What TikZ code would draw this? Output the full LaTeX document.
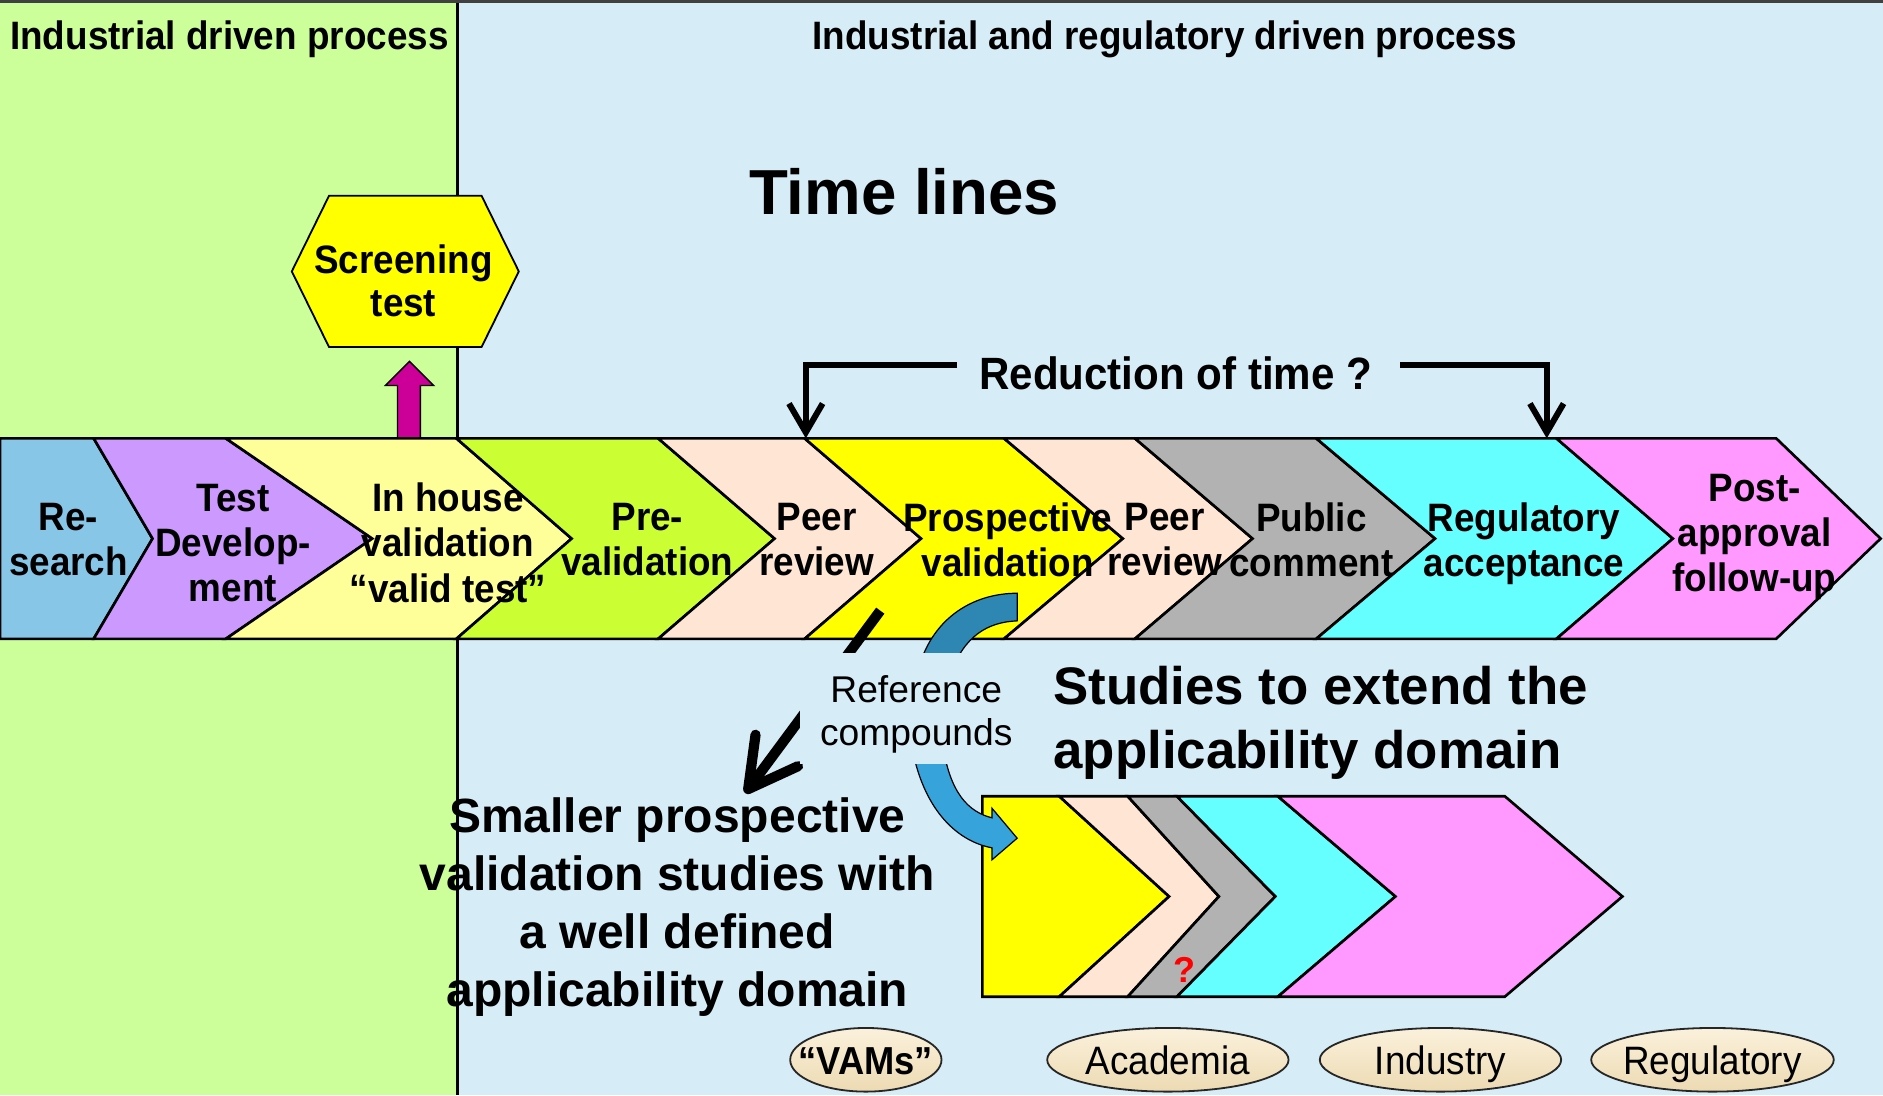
\documentclass[tikz,border=0pt]{standalone}
\usepackage{fontspec}
\setmainfont{Liberation Sans}
\newfontfamily\condfont[FakeStretch=0.93]{Liberation Sans}
\usetikzlibrary{arrows.meta,shapes.geometric}
\definecolor{bggreen}{HTML}{CCFF99}
\definecolor{bgblue}{HTML}{D6ECF7}
\definecolor{cBlue}{HTML}{88C6E8}
\definecolor{cPurple}{HTML}{CC99FF}
\definecolor{cLightYellow}{HTML}{FFFF99}
\definecolor{cGreen}{HTML}{CCFF33}
\definecolor{cPeach}{HTML}{FFE5D3}
\definecolor{cYellow}{HTML}{FFFF00}
\definecolor{cGray}{HTML}{B2B2B2}
\definecolor{cCyan}{HTML}{66FFFF}
\definecolor{cPink}{HTML}{FF99FF}
\definecolor{cMagenta}{HTML}{CC0099}
\definecolor{bandA}{HTML}{2E86B3}
\definecolor{bandB}{HTML}{36A3DA}
\definecolor{ellTop}{HTML}{FBF1DC}
\definecolor{ellBot}{HTML}{ECDAB2}
\tikzset{
  chev/.style={draw=black, line width=2.2pt, line join=miter},
  ctext/.style={align=center, inner sep=0pt, font=\condfont\bfseries\fontsize{33}{37.5}\selectfont},
  hdr/.style={inner sep=0pt, font=\condfont\bfseries\fontsize{33}{37.5}\selectfont},
  brk/.style={line width=5pt, -{Straight Barb[length=24pt,width=28pt]}},
  oval/.style={ellipse, draw=black!85, line width=1.5pt, inner sep=0pt,
    minimum height=53pt, top color=ellTop, bottom color=ellBot},
  ovaltext/.style={inner sep=0pt, text height=24pt, text depth=0pt, font=\condfont\fontsize{33}{37}\selectfont},
}
\newcommand\chv[5]{\filldraw[chev,fill=#5] (#1,\chvTop) -- (#3,\chvTop) -- (#4,\chvMid) -- (#3,\chvBot) -- (#1,\chvBot) -- (#2,\chvMid) -- cycle;}
\begin{document}
\begin{tikzpicture}[x=1pt,y=-1pt]
\useasboundingbox (0,0) rectangle (1568,912);
% backgrounds
\fill[bggreen] (0,0) rectangle (381,912);
\fill[bgblue] (381,0) rectangle (1568,912);
\draw[line width=2pt] (381,0) -- (381,912);
\draw[line width=2.5pt, black!75] (0,1.5) -- (1568,1.5);
% headers
\node[hdr] (h1) at (191,33) {Industrial driven process};
\node[hdr] (h2) at (970,33) {Industrial and regulatory driven process};
\node[inner sep=0pt, font=\bfseries\fontsize{53}{60}\selectfont] (tl) at (753,160) {Time lines};
% screening test hexagon and arrow
\filldraw[draw=black, line width=1.5pt, fill=cYellow] (274,163) -- (401,163) -- (432,226) -- (401,289) -- (274,289) -- (243,226) -- cycle;
\node[ctext, font=\condfont\bfseries\fontsize{33}{36}\selectfont] (scr) at (336,234) {Screening\\test};
\filldraw[draw=black, line width=1.2pt, fill=cMagenta] (331,365) -- (331,321) -- (321,321) -- (341,301) -- (361,321) -- (350,321) -- (350,365) -- cycle;
% main band of chevrons
\def\chvTop{365}\def\chvMid{448.5}\def\chvBot{532}
\chv{0}{0}{78}{127}{cBlue}
\chv{78}{127}{188}{310}{cPurple}
\chv{188}{310}{380}{476}{cLightYellow}
\chv{380}{476}{548}{645}{cGreen}
\chv{548}{645}{670}{767}{cPeach}
\chv{670}{767}{836}{935}{cYellow}
\chv{836}{935}{945}{1043}{cPeach}
\chv{945}{1043}{1096}{1195}{cGray}
\chv{1096}{1195}{1296}{1393}{cCyan}
\chv{1296}{1393}{1479}{1566}{cPink}
\node[ctext] (n1) at (57,449.5) {Re-\\search};
\node[ctext] (n2) at (194,452) {Test\\Develop-\\ment};
\node[ctext] (n3) at (373,452) {In house\\validation\\“valid test”};
\node[ctext] (n4) at (539,449.5) {Pre-\\validation};
\node[ctext] (n5) at (680,449.5) {Peer\\review};
\node[ctext] (n6) at (839,449.5) {Prospective\\validation};
\node[ctext] (n7) at (970,449.5) {Peer\\review};
\node[ctext] (n8) at (1092,449.5) {Public\\comment};
\node[ctext] (n9) at (1269,453) {Regulatory\\acceptance};
\node[ctext] (n10) at (1461,447) {Post-\\approval\\follow-up};
% reduction of time
\node[inner sep=0pt, font=\condfont\bfseries\fontsize{37.7}{40}\selectfont] (red) at (979,311) {Reduction of time ?};
\coordinate (rl1) at (797,304); \coordinate (rl2) at (671,365);
\coordinate (rr1) at (1166,304); \coordinate (rr2) at (1288,365);
\draw[brk] (rl1) -| (rl2);
\draw[brk] (rr1) -| (rr2);
% small chevrons
\def\chvTop{663}\def\chvMid{746.5}\def\chvBot{830}
\chv{818}{818}{882}{973.5}{cYellow}
\chv{882}{973.5}{939}{1015}{cPeach}
\chv{939}{1015}{980}{1062}{cGray}
\chv{980}{1062}{1064}{1162}{cCyan}
\chv{1064}{1162}{1253}{1351}{cPink}
\node[text=red, inner sep=0pt, font=\bfseries\fontsize{30}{30}\selectfont] (qm) at (986,808) {?};
% blue curved arrows
\filldraw[draw=black, line width=1pt, fill=bandA] (764,560) .. controls (775,515) and (810,494) .. (847,494) -- (847,517) .. controls (822,518) and (803,530) .. (792,560) -- cycle;
\filldraw[draw=black, line width=1pt, fill=bandB] (759,620) .. controls (768,672) and (795,700) .. (826,706) -- (826,716) -- (847,698) -- (826,673) -- (826,681) .. controls (806,676) and (791,660) .. (785,620) -- cycle;
% black arrow
\coordinate (ba1) at (733,508.5); \coordinate (ba2) at (620.5,660.5);
\draw[line width=8.5pt, -{Straight Barb[length=40pt,width=44pt,round]}] (ba1) -- (ba2);
% reference compounds box
\node[fill=bgblue, minimum width=192pt, minimum height=92pt, inner sep=0pt] (refbox) at (762,590) {};
\node[align=center, inner sep=0pt, font=\fontsize{31}{36}\selectfont] (ref) at (763,595) {Reference\\compounds};
% texts
\node[align=center, inner sep=0pt, font=\bfseries\fontsize{40}{48.3}\selectfont] (small) at (564,755)
  {Smaller prospective\\validation studies with\\a well defined\\applicability domain};
\node[align=left, anchor=west, inner sep=0pt, font=\bfseries\fontsize{44}{53}\selectfont] (stud) at (877,602)
  {Studies to extend the\\applicability domain};
% ovals
\node[oval, minimum width=126pt] (vams) at (721,882.5) {};
\node[ovaltext, font=\condfont\bfseries\fontsize{32.5}{37}\selectfont] (vamsT) at (vams.center) {“VAMs”};
\node[oval, minimum width=201pt] (acad) at (972.5,882.5) {};
\node[ovaltext] (acadT) at (acad.center) {Academia};
\node[oval, minimum width=201pt] (ind) at (1199.5,882.5) {};
\node[ovaltext] (indT) at (ind.center) {Industry};
\node[oval, minimum width=202pt] (reg) at (1426,882.5) {};
\node[ovaltext] (regT) at (reg.center) {Regulatory};
\end{tikzpicture}
\end{document}
